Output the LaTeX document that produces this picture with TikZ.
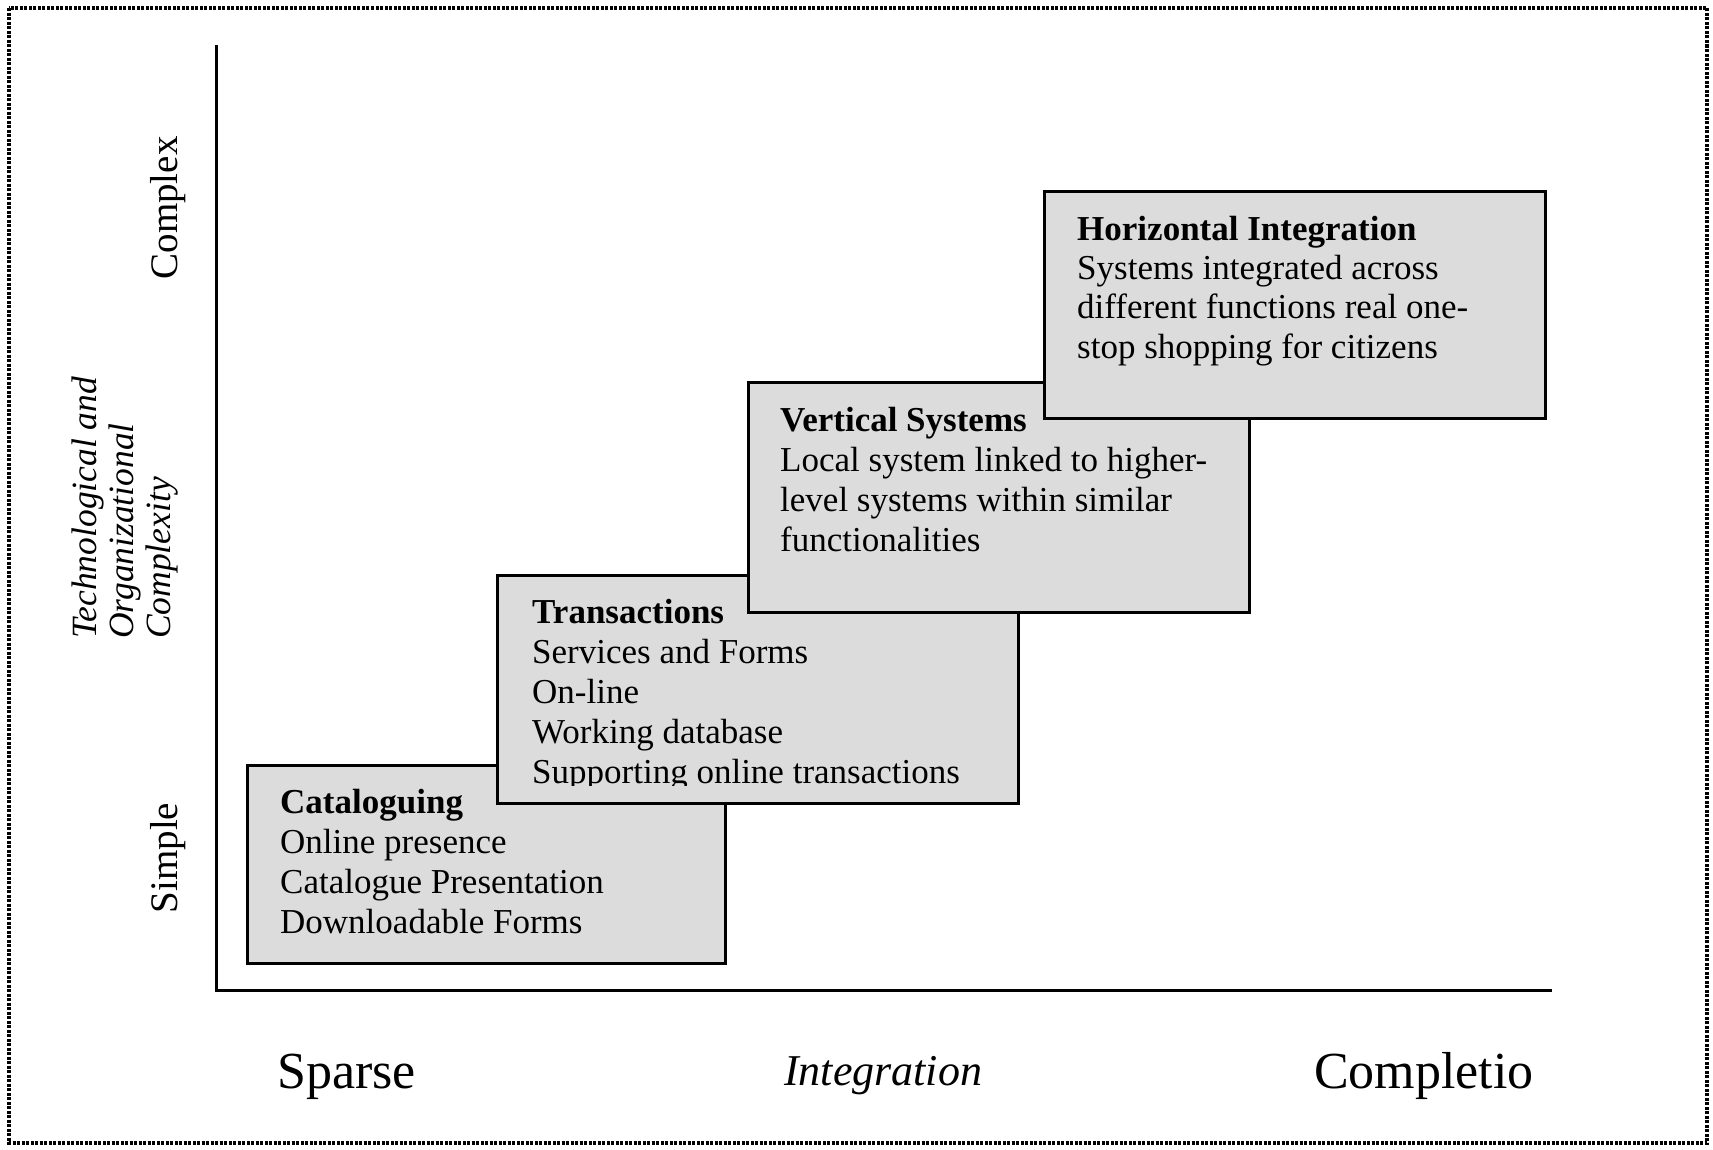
\documentclass[tikz,border=0pt]{standalone}
\usepackage{fontspec}
\setmainfont{Liberation Serif}
\definecolor{boxgray}{RGB}{220,220,220}
\begin{document}
\begin{tikzpicture}[x=1pt,y=-1pt,
  stagebox/.style={draw=black, line width=3pt, fill=boxgray, anchor=north west, inner sep=0pt},
  boxtext/.style={anchor=north west, inner sep=0pt, align=left, font=\fontsize{35}{40}\selectfont},
  axisline/.style={draw=black, line width=3pt},
  framestyle/.style={draw=black, line width=3.5pt, dash pattern=on 3pt off 1.5pt},
  sidelabel/.style={rotate=90, anchor=base, inner sep=0pt, font=\fontsize{39}{42}\selectfont},
  bottomlabel/.style={anchor=base west, inner sep=0pt, font=\fontsize{52}{58}\selectfont}]
\useasboundingbox (0,0) rectangle (1713,1149);
\fill[white] (0,0) rectangle (1713,1149);
\draw[framestyle] (9,8) rectangle (1707,1143);

% axes
\coordinate (ytop) at (216,45);
\coordinate (origin) at (216,990);
\coordinate (xend) at (1552,990);
\draw[axisline] (ytop) -- (origin) -- (xend);

% stage boxes
\node[stagebox, minimum width=478pt, minimum height=198pt] (cat) at (246,764) {};
\node[boxtext] (catT) at (280,783) {\rule{0pt}{30pt}\textbf{Cataloguing}\\Online presence\\Catalogue Presentation\\Downloadable Forms};

\node[stagebox, minimum width=521pt, minimum height=228pt] (trans) at (496,574) {};
\begin{scope}
\clip (496,574) rectangle (1017,785);
\node[boxtext] (transT) at (532,593) {\rule{0pt}{30pt}\textbf{Transactions}\\Services and Forms\\On-line\\Working database\\Supporting online transactions};
\end{scope}

\node[stagebox, minimum width=501pt, minimum height=230pt] (vert) at (747,381) {};
\node[boxtext] (vertT) at (780,401) {\rule{0pt}{30pt}\textbf{Vertical Systems}\\Local system linked to higher-\\level systems within similar\\functionalities};

\node[stagebox, minimum width=501pt, minimum height=227pt] (horiz) at (1043,190) {};
\node[boxtext, font=\fontsize{35}{39.3}\selectfont] (horizT) at (1077,210) {\rule{0pt}{30pt}\textbf{Horizontal Integration}\\Systems integrated across\\different functions real one-\\stop shopping for citizens};

% vertical axis labels
\node[sidelabel] (complex) at (177,208) {Complex};
\node[sidelabel] (simple) at (177,858) {Simple};
\node[rotate=90, anchor=south west, inner sep=0pt, align=left, font=\fontsize{35.5}{37}\itshape] (ylab) at (178,639) {Technological and\\Organizational\\Complexity};

% horizontal axis labels
\node[bottomlabel] (sparse) at (277,1088) {Sparse};
\node[bottomlabel, font=\fontsize{44}{50}\itshape] (integ) at (784,1085) {Integration};
\node[bottomlabel] (compl) at (1314,1088) {Completio};
\end{tikzpicture}
\end{document}
